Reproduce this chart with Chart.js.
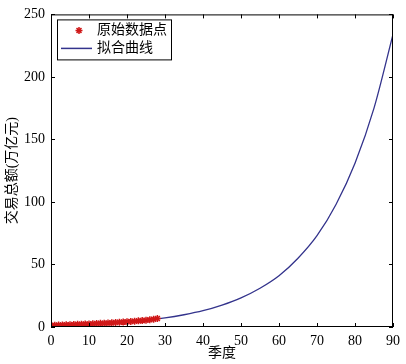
<!DOCTYPE html>
<html>
<head>
<meta charset="utf-8">
<script src="https://cdn.jsdelivr.net/npm/chart.js@4/dist/chart.umd.min.js"></script>
<style>
  html, body { margin: 0; padding: 0; background: #fff; }
  #wrap { width: 406px; height: 364px; }
</style>
</head>
<body>
<div id="wrap"><canvas id="fitChart" width="406" height="364"></canvas></div>
<script>
// Quarterly transaction totals (trillion yuan) and fitted exponential curve
var quarters  = [0, 1, 2, 3, 4, 5, 6, 7, 8, 9, 10, 11, 12, 13, 14, 15, 16, 17, 18, 19, 20, 21, 22, 23, 24, 25, 26, 27, 28];
var rawValues = [1.2, 1.4, 1.5, 1.6, 1.8, 1.7, 2.0, 2.1, 2.2, 2.4, 2.3, 2.6, 2.8, 2.9, 3.0, 3.2, 3.3, 3.6, 3.8, 3.9, 4.2, 4.4, 4.6, 4.9, 5.1, 5.4, 5.8, 6.2, 6.8];

var fitX      = [0, 5, 10, 15, 20, 25, 30, 35, 40, 45, 50, 55, 60, 65, 70, 75, 80, 85, 90];
var fitValues = [1.3, 1.7, 2.3, 3.1, 4.1, 5.5, 7.3, 9.8, 13, 17.5, 23.3, 31, 41, 55, 73, 98, 131, 175, 234];

var xTicks = [0, 10, 20, 30, 40, 50, 60, 70, 80, 90];
var yTicks = [0, 50, 100, 150, 200, 250];

var labelRaw = '原始数据点';
var labelFit = '拟合曲线';
var xTitle   = '季度';
var yTitle   = '交易总额(万亿元)';

var FONT = "'Liberation Serif', 'Noto Sans CJK SC', serif";
var RED  = '#d01818';
var NAVY = '#33338c';

function toPoints(xs, ys) {
  return xs.map(function(x, i) { return { x: x, y: ys[i] }; });
}

// Box round the plot, inward ticks on all four sides, legend inside the plot
var framePlugin = {
  id: 'frame',
  afterDraw: function(chart) {
    var ctx = chart.ctx, a = chart.chartArea;
    var xs = chart.scales.x, ys = chart.scales.y;
    ctx.save();
    ctx.strokeStyle = '#000';
    ctx.lineWidth = 1;
    ctx.strokeRect(a.left + 0.5, a.top + 0.5, a.right - a.left - 1, a.bottom - a.top - 1);
    ctx.beginPath();
    xTicks.forEach(function(v) {
      var px = Math.round(xs.getPixelForValue(v)) + 0.5;
      ctx.moveTo(px, a.bottom); ctx.lineTo(px, a.bottom - 4);
      ctx.moveTo(px, a.top);    ctx.lineTo(px, a.top + 4);
    });
    yTicks.forEach(function(v) {
      var py = Math.round(ys.getPixelForValue(v)) + 0.5;
      ctx.moveTo(a.left, py);  ctx.lineTo(a.left + 4, py);
      ctx.moveTo(a.right, py); ctx.lineTo(a.right - 4, py);
    });
    ctx.stroke();

    // legend
    var bx = a.left + 6, by = a.top + 5, bw = 114, bh = 40;
    var ds = chart.data.datasets;
    ctx.fillStyle = '#fff';
    ctx.fillRect(bx, by, bw, bh);
    ctx.strokeRect(bx + 0.5, by + 0.5, bw, bh);
    // row 1: marker
    ctx.strokeStyle = RED;
    ctx.fillStyle = RED;
    ctx.lineWidth = 1.5;
    Chart.helpers.drawPoint(ctx, { pointStyle: 'star', radius: 3.5, borderWidth: 1.5 }, bx + 22, by + 11);
    // row 2: line
    ctx.strokeStyle = ds[1].borderColor;
    ctx.lineWidth = 1.5;
    ctx.beginPath();
    ctx.moveTo(bx + 4, by + 29); ctx.lineTo(bx + 35, by + 29);
    ctx.stroke();
    ctx.font = '14px ' + FONT;
    ctx.fillStyle = '#000';
    ctx.textBaseline = 'middle';
    ctx.fillText(ds[0].label, bx + 40, by + 11);
    ctx.fillText(ds[1].label, bx + 40, by + 29);
    ctx.restore();
  }
};

new Chart(document.getElementById('fitChart').getContext('2d'), {
  type: 'scatter',
  data: {
    datasets: [{
      label: labelRaw,
      data: toPoints(quarters, rawValues),
      pointStyle: 'star',
      pointRadius: 3.5,
      pointBorderWidth: 1.5,
      borderColor: RED,
      backgroundColor: RED,
      showLine: false,
      order: 1
    }, {
      label: labelFit,
      data: toPoints(fitX, fitValues),
      showLine: true,
      borderColor: NAVY,
      borderWidth: 1.3,
      pointRadius: 0,
      cubicInterpolationMode: 'monotone',
      order: 2
    }]
  },
  options: {
    responsive: false,
    animation: false,
    layout: { padding: { top: 11, right: 10, left: 0, bottom: 0 } },
    plugins: { legend: { display: false }, tooltip: { enabled: false } },
    scales: {
      x: {
        type: 'linear', min: 0, max: 90,
        afterBuildTicks: function(s) { s.ticks = xTicks.map(function(v) { return { value: v }; }); },
        afterFit: function(s) { s.height = 37; },
        grid: { display: false, drawTicks: false },
        border: { display: false },
        ticks: { padding: 6, color: '#000', font: { family: FONT, size: 14 } },
        title: { display: true, text: xTitle, color: '#000', padding: { top: 0, bottom: 2 }, font: { family: FONT, size: 14 } }
      },
      y: {
        type: 'linear', min: 0, max: 250,
        afterBuildTicks: function(s) { s.ticks = yTicks.map(function(v) { return { value: v }; }); },
        afterFit: function(s) { s.width = 51; },
        grid: { display: false, drawTicks: false },
        border: { display: false },
        ticks: { padding: 6, color: '#000', font: { family: FONT, size: 14 } },
        title: { display: true, text: yTitle, color: '#000', padding: { top: 4, bottom: 0 }, font: { family: FONT, size: 14 } }
      }
    }
  },
  plugins: [framePlugin]
});
</script>
</body>
</html>
